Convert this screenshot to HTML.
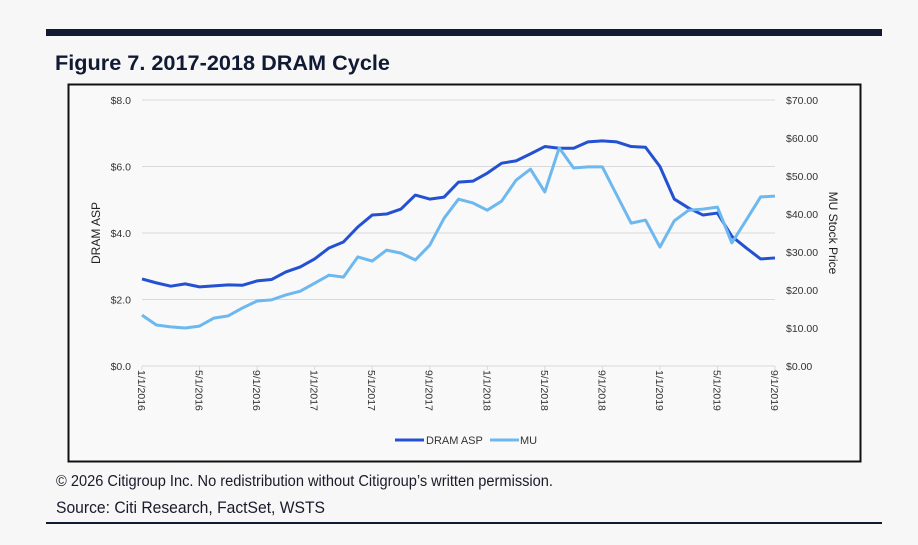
<!DOCTYPE html>
<html><head><meta charset="utf-8"><style>
body{margin:0;background:#f7f7f7;width:918px;height:540px;overflow:hidden;font-family:"Liberation Sans",sans-serif}
</style></head><body>
<svg width="918" height="540" viewBox="0 0 918 540" xmlns="http://www.w3.org/2000/svg">
<rect x="0" y="0" width="918" height="540" fill="#f7f7f7"/>
<rect x="46" y="29" width="836" height="7" fill="#111a33"/>
<text x="55" y="70" font-size="21" font-weight="bold" fill="#111a33" textLength="335" lengthAdjust="spacingAndGlyphs">Figure 7. 2017-2018 DRAM Cycle</text>
<rect x="68.5" y="84.5" width="792" height="377" fill="#f9f9f9" stroke="#111" stroke-width="2"/>
<g id="grid"></g>
<g id="axes" font-size="10.5" fill="#333"></g>
<g id="lines"></g>
<text transform="translate(100,233) rotate(-90)" text-anchor="middle" font-size="12" fill="#222">DRAM ASP</text>
<text transform="translate(829,233) rotate(90)" text-anchor="middle" font-size="12" fill="#222">MU Stock Price</text>
<g>
<line x1="395" y1="440" x2="424" y2="440" stroke="#2351d2" stroke-width="3"/>
<text x="426" y="444" font-size="11" fill="#333">DRAM ASP</text>
<line x1="490" y1="440" x2="519" y2="440" stroke="#6db8ee" stroke-width="3"/>
<text x="520" y="444" font-size="11" fill="#333">MU</text>
</g>
<text x="56" y="486" font-size="15.5" fill="#1a1a2a" textLength="497" lengthAdjust="spacingAndGlyphs">© 2026 Citigroup Inc. No redistribution without Citigroup’s written permission.</text>
<text x="56" y="513" font-size="17" fill="#1a1a2a" textLength="269" lengthAdjust="spacingAndGlyphs">Source: Citi Research, FactSet, WSTS</text>
<rect x="46" y="522" width="836" height="2" fill="#111a33"/>
</svg>
<script>
const dramAsp=[2.62,2.5,2.4,2.47,2.38,2.41,2.44,2.43,2.56,2.6,2.83,2.98,3.22,3.55,3.73,4.18,4.54,4.57,4.72,5.14,5.02,5.08,5.53,5.56,5.8,6.1,6.17,6.38,6.6,6.55,6.55,6.74,6.77,6.74,6.6,6.58,6.0,5.02,4.75,4.54,4.6,3.9,3.55,3.22,3.25];
const muPrice=[13.4,10.8,10.3,10.0,10.5,12.6,13.2,15.3,17.1,17.4,18.7,19.7,21.8,23.9,23.4,28.7,27.6,30.5,29.7,27.9,31.8,38.9,43.9,42.9,41,43.4,48.9,51.8,45.8,57.4,52.1,52.4,52.4,45,37.6,38.4,31.3,38.2,41,41.3,41.8,32.4,38.4,44.5,44.7];
const leftTicks=["$0.0","$2.0","$4.0","$6.0","$8.0"];
const leftTickValues=[0,2,4,6,8];
const rightTicks=["$0.00","$10.00","$20.00","$30.00","$40.00","$50.00","$60.00","$70.00"];
const rightTickValues=[0,10,20,30,40,50,60,70];
const xLabels=["1/1/2016","5/1/2016","9/1/2016","1/1/2017","5/1/2017","9/1/2017","1/1/2018","5/1/2018","9/1/2018","1/1/2019","5/1/2019","9/1/2019"];
const X0=142,X1=775,Y0=366,Y1=100;
const n=dramAsp.length;
const x=i=>X0+(X1-X0)*i/(n-1);
const yL=v=>Y0-(Y0-Y1)*v/8;
const yR=v=>Y0-(Y0-Y1)*v/70;
const NS="http://www.w3.org/2000/svg";
function mk(t,a,p){const e=document.createElementNS(NS,t);for(const k in a)e.setAttribute(k,a[k]);p.appendChild(e);return e;}
const grid=document.getElementById('grid'),axes=document.getElementById('axes'),lines=document.getElementById('lines');
leftTickValues.forEach((v,i)=>{
 const g=mk('line',{x1:X0,x2:X1,y1:yL(v),y2:yL(v),stroke:'#d9d9d9','stroke-width':1},grid);
 
 
 const t=mk('text',{x:131,y:yL(v)+4,'text-anchor':'end'},axes);t.textContent=leftTicks[i];
 
 
});
rightTickValues.forEach((v,i)=>{
 const t=mk('text',{x:786,y:yR(v)+4},axes);t.textContent=rightTicks[i];
 
 
});
xLabels.forEach((l,i)=>{
 const xi=x(i*4);
 const tk=mk('line',{x1:xi,x2:xi,y1:Y0,y2:Y0+4,stroke:'#d9d9d9'},grid);
 
 
 const t=mk('text',{transform:`translate(${xi-4},370) rotate(90)`},axes);t.textContent=l;
 
 
});
function path(arr,f,c,name){
 const p=mk('polyline',{points:arr.map((v,i)=>x(i)+','+f(v)).join(' '),fill:'none',stroke:c,'stroke-width':3,'stroke-linejoin':'round'},lines);
 
 
}
path(dramAsp,yL,'#2351d2','dram-asp-line');
path(muPrice,yR,'#6db8ee','mu-line');
</script>
</body></html>
